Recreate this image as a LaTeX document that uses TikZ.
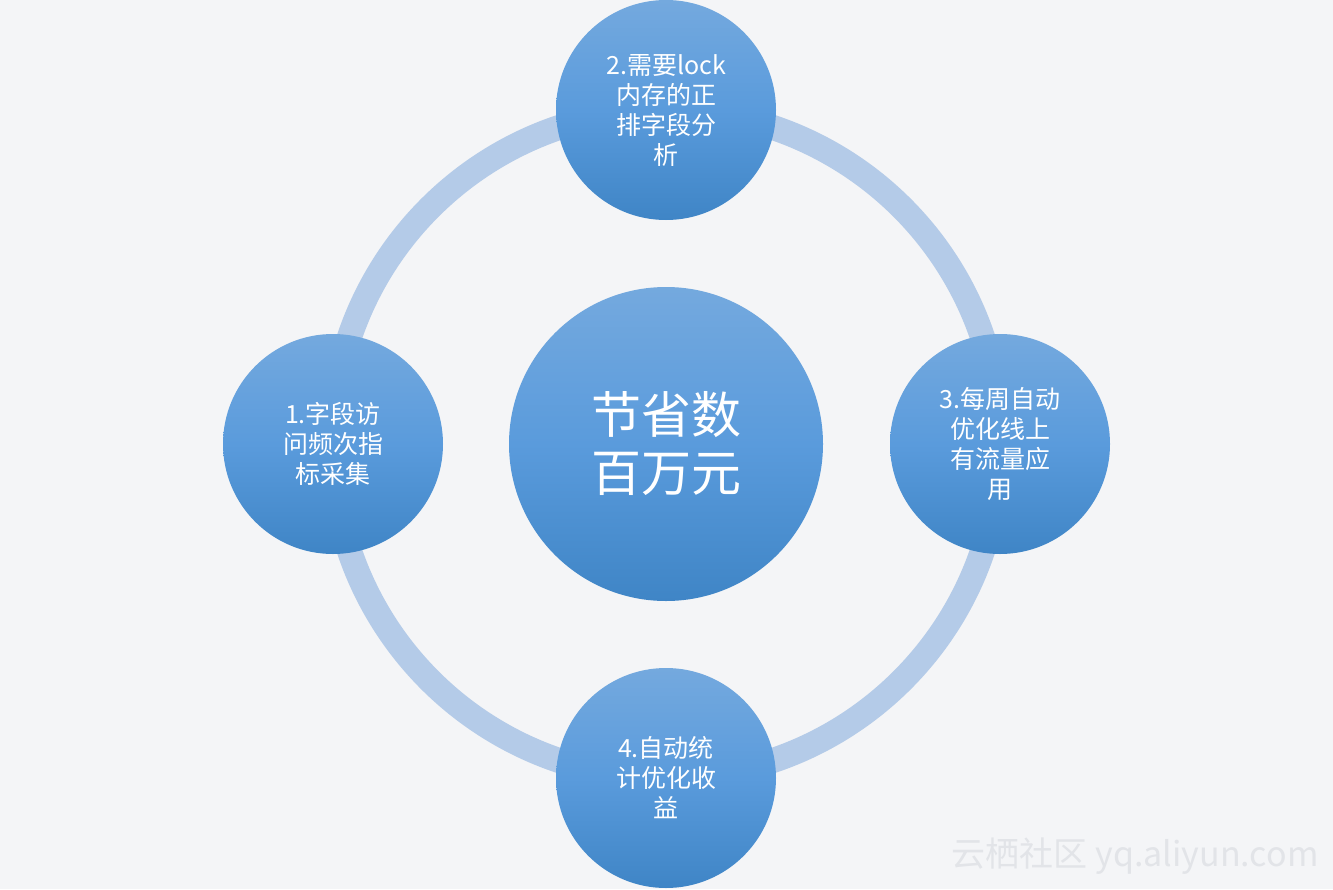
\documentclass[tikz,border=0pt]{standalone}
\usepackage{fontspec}
\newfontfamily\cjk{Noto Sans CJK SC}
\definecolor{bg}{HTML}{F4F5F7}
\definecolor{ctop}{HTML}{74A9DE}
\definecolor{cmid}{HTML}{5A9BDC}
\definecolor{cbot}{HTML}{3F85C6}
\definecolor{ring}{HTML}{B4CBE8}
\definecolor{wm}{HTML}{E2E4E8}
\tikzset{
  bub/.style={circle, minimum size=220pt, inner sep=0pt, top color=ctop, bottom color=cbot, middle color=cmid, text=white, align=center, font=\cjk\fontsize{25pt}{30pt}\selectfont},
}
\begin{document}
\begin{tikzpicture}[x=1pt,y=-1pt]
\fill[bg] (0,0) rectangle (1333,889);
\useasboundingbox (0,0) rectangle (1333,889);
\coordinate (c) at (666,444);
\draw[ring, line width=25pt] (c) circle (334);
\node[bub, minimum size=314pt, font=\cjk\fontsize{50pt}{58pt}\selectfont] (center) at (c) {节省数\\百万元};
\node[bub] (n2) at (666,110) {2.需要lock\\内存的正\\排字段分\\析};
\node[bub] (n1) at (333,444) {1.字段访\\问频次指\\标采集};
\node[bub] (n3) at (1000,444) {3.每周自动\\优化线上\\有流量应\\用};
\node[bub] (n4) at (666,778) {4.自动统\\计优化收\\益};
\node[text=wm, font=\cjk\fontsize{34pt}{34pt}\selectfont, anchor=east] (wmk) at (1322,856) {云栖社区 yq.aliyun.com};
\end{tikzpicture}
\end{document}
